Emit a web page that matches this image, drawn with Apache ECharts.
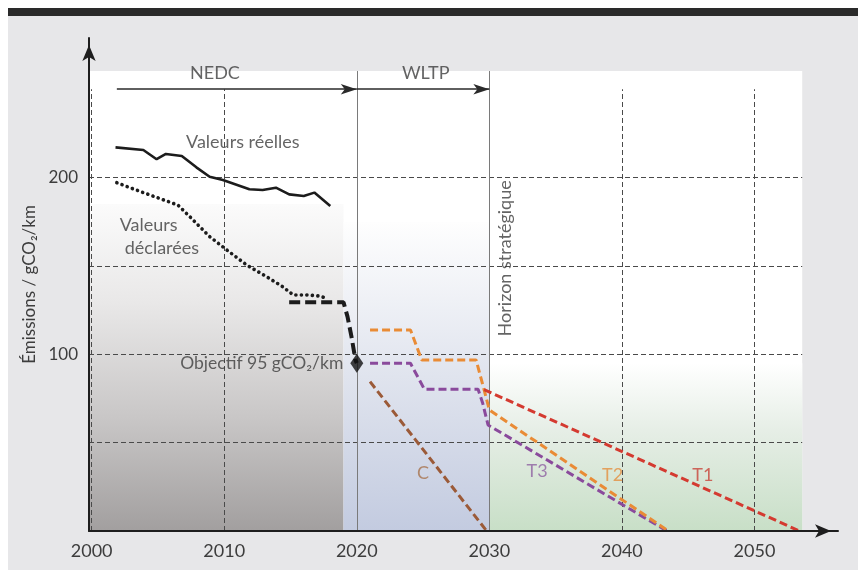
<!DOCTYPE html>
<html><head><meta charset="utf-8">
<script src="https://cdn.jsdelivr.net/npm/echarts@6/dist/echarts.min.js"></script>
<style>html,body{margin:0;padding:0;background:#fff}#c{width:858px;height:570px}</style>
</head><body><div id="c"></div>
<script>
// ---- data ----
const xTickYears = [2000, 2010, 2020, 2030, 2040, 2050];
const yTickValues = [100, 200];
const gridValues = [50, 100, 150, 200];
const dashedYears = [2000, 2010, 2040, 2050];
const phaseYears = [2020, 2030];

const reellesYears  = [2001.8, 2003.9, 2004.9, 2005.6, 2006.8, 2007.9, 2008.9, 2009.9, 2011.9, 2012.9, 2013.9, 2014.9, 2016.0, 2016.8, 2018.0];
const reellesValues = [217.1, 215.6, 210.4, 213.4, 212.2, 205.8, 200.5, 198.6, 193.4, 193.0, 194.3, 190.5, 189.6, 191.5, 183.9];

const declareesYears  = [2001.9, 2003.9, 2006.5, 2007.4, 2008.9, 2010.2, 2011.7, 2013.2, 2014.4, 2015.2, 2016.2, 2017.2, 2017.7];
const declareesValues = [197.1, 191.5, 184.5, 177.9, 166.6, 159.0, 150.5, 143.9, 138.3, 133.6, 133.6, 133.0, 131.7];

const objectifYears  = [2014.9, 2019.0, 2019.3, 2019.6, 2019.9, 2020.0];
const objectifValues = [129.4, 129.4, 121.3, 110.0, 96.8, 95.0];
const targetPoint = [2020, 95];

const t2Years  = [2021.0, 2024.05, 2024.9, 2029.0, 2029.6, 2030.0, 2043.5];
const t2Values = [113.8, 113.8, 96.8, 96.8, 80.0, 68.5, 0];
const t3Years  = [2021.0, 2024.05, 2025.1, 2029.15, 2029.5, 2029.9, 2043.4];
const t3Values = [94.9, 94.9, 80.2, 80.2, 72.3, 60.0, 0];
const t1Years  = [2029.6, 2053.4];
const t1Values = [80.0, 0];
const cYears   = [2021.0, 2029.8];
const cValues  = [84.5, 0];

const scenarioNames  = ['C', 'T3', 'T2', 'T1'];
const scenarioYears  = [2025.0, 2033.6, 2039.3, 2046.1];
const scenarioValues = [33.0, 34.1, 31.7, 31.7];

const phaseNames = ['NEDC', 'WLTP'];
const phaseCenters = [2009.3, 2025.2];
const phaseStarts = [2001.9, 2020];
const phaseEnds = [2020, 2030];
const phaseLabelValue = 259;
const phaseArrowValue = 250;

const xMin = 1999.8, xMax = 2056.3, yMax = 279;
const panelRight = 2053.6, panelTop = 260.3, gridTop = 250;

// ---- build ----
const zip = (xs, ys) => xs.map((x, i) => [x, ys[i]]);
const FONT = "Lato, 'Open Sans', sans-serif";
const TXT = '#3d3d3d';
const grad = (stops) => ({type: 'linear', x: 0, y: 0, x2: 0, y2: 1,
  colorStops: stops.map(s => ({offset: s[0], color: s[1]}))});

const chart = echarts.init(document.getElementById('c'), null, {renderer: 'canvas'});

const textPoint = (name, x, y, extra) => ({
  value: [x, y],
  label: Object.assign({show: true, position: 'inside', formatter: name,
    fontSize: 18, color: TXT, fontFamily: FONT}, extra || {})
});

chart.setOption({
  animation: false,
  backgroundColor: '#e7e7e9',
  textStyle: {fontFamily: FONT},
  graphic: [
    {type: 'rect', z: -10, shape: {x: 0, y: 0, width: 858, height: 16}, style: {fill: '#ffffff'}},
    {type: 'rect', z: -10, shape: {x: 0, y: 0, width: 8, height: 570}, style: {fill: '#ffffff'}},
    {type: 'rect', z: -9, shape: {x: 8, y: 8, width: 850, height: 8}, style: {fill: '#2a2a2a'}}
  ],
  grid: {left: 89, right: 20, top: 38, bottom: 39, containLabel: false},
  xAxis: {
    type: 'value', min: xMin, max: xMax, z: 10,
    axisLine: {show: true, symbol: ['none', 'arrow'], symbolSize: [10, 16], symbolOffset: [0, -7],
      lineStyle: {color: '#1e1e1e', width: 2}},
    axisTick: {show: false},
    splitLine: {show: false},
    axisLabel: {customValues: xTickYears, fontSize: 18, color: TXT, margin: 11, fontFamily: FONT,
      formatter: v => String(Math.round(v))}
  },
  yAxis: {
    type: 'value', min: 0, max: yMax, z: 10,
    name: 'Émissions / gCO₂/km', nameLocation: 'middle', nameGap: 50, nameRotate: 90,
    nameTextStyle: {fontSize: 17, color: TXT, fontFamily: FONT},
    axisLine: {show: true, symbol: ['none', 'arrow'], symbolSize: [10, 16], symbolOffset: [0, -7],
      lineStyle: {color: '#1e1e1e', width: 2}},
    axisTick: {show: false},
    splitLine: {show: false},
    axisLabel: {customValues: yTickValues, fontSize: 17, color: TXT, margin: 11, fontFamily: FONT}
  },
  series: [
    { // backgrounds
      type: 'line', data: [], silent: true,
      markArea: {silent: true, z: 0.5, data: [
        [{coord: [xMin, 0], itemStyle: {color: '#ffffff'}}, {coord: [panelRight, panelTop]}]
      ]}
    },
    {
      type: 'line', data: [], silent: true,
      markArea: {silent: true, z: 0.8, data: [
        [{coord: [xMin, 0], itemStyle: {color: grad([[0, '#fbfbfb'], [0.3, '#e9e8e8'], [0.65, '#c9c7c7'], [1, '#a29f9f']])}}, {coord: [2019.0, 185]}],
        [{coord: [2019.0, 0], itemStyle: {color: grad([[0, '#fefefe'], [0.5, '#e0e4ee'], [1, '#c3cbe0']])}}, {coord: [2030, 175]}],
        [{coord: [2030, 0], itemStyle: {color: grad([[0, '#ffffff'], [0.4, '#e6eee6'], [1, '#c8dfc7']])}}, {coord: [panelRight, 95]}]
      ]}
    },
    { // grid lines
      type: 'line', data: [], silent: true,
      markLine: {silent: true, z: 1, symbol: ['none', 'none'], label: {show: false},
        lineStyle: {color: '#4a4a4a', width: 1, type: [5, 3]},
        data: gridValues.map(v => [{coord: [xMin, v]}, {coord: [panelRight, v]}])
          .concat(dashedYears.map(y => [{coord: [y, 0]}, {coord: [y, gridTop]}]))
          .concat(phaseYears.map(y => [{coord: [y, 0]}, {coord: [y, panelTop], lineStyle: {type: 'solid', color: '#7a7a7a', width: 1}}]))
      }
    },
    { // phase arrows
      type: 'line', data: [], silent: true,
      markLine: {silent: true, z: 3, symbol: ['none', 'arrow'], symbolSize: [8, 16], label: {show: false},
        lineStyle: {color: '#2a2a2a', width: 1.5, type: 'solid'},
        data: phaseStarts.map((s, i) => [{coord: [s, phaseArrowValue]}, {coord: [phaseEnds[i], phaseArrowValue]}])
      }
    },
    {name: 'Valeurs réelles', type: 'line', z: 4, symbol: 'none', data: zip(reellesYears, reellesValues),
      lineStyle: {color: '#1c1c1c', width: 2.6}},
    {name: 'Valeurs déclarées', type: 'line', z: 4, symbol: 'none', data: zip(declareesYears, declareesValues),
      lineStyle: {color: '#1c1c1c', width: 3.6, type: [0.1, 5.4], cap: 'round'}},
    {name: 'Objectif', type: 'line', z: 4, symbol: 'none', data: zip(objectifYears, objectifValues),
      lineStyle: {color: '#1c1c1c', width: 4, type: [11, 5]}},
    {name: 'C', type: 'line', z: 4, symbol: 'none', data: zip(cYears, cValues),
      lineStyle: {color: '#9b5a38', width: 3, type: [8, 4]}},
    {name: 'T3', type: 'line', z: 4, symbol: 'none', data: zip(t3Years, t3Values),
      lineStyle: {color: '#8a4a9c', width: 3, type: [8, 4]}},
    {name: 'T2', type: 'line', z: 4, symbol: 'none', data: zip(t2Years, t2Values),
      lineStyle: {color: '#e98b35', width: 3, type: [8, 4]}},
    {name: 'T1', type: 'line', z: 4, symbol: 'none', data: zip(t1Years, t1Values),
      lineStyle: {color: '#d43a30', width: 3, type: [8, 4]}},
    {name: 'Objectif 95', type: 'scatter', z: 5, symbol: 'diamond', symbolSize: [13, 19],
      itemStyle: {color: '#111111'}, data: [targetPoint],
      label: {show: true, position: 'left', distance: 7, fontSize: 17.5, color: TXT, fontFamily: FONT,
        formatter: 'Objectif 95 gCO₂/km'}},
    { // text annotations
      type: 'scatter', z: 6, symbolSize: 0, silent: true,
      data: [
        textPoint('Valeurs réelles', 2011.4, 220.3),
        textPoint('Valeurs', 2004.3, 173.2),
        textPoint('déclarées', 2005.3, 160.3),
        textPoint('Horizon stratégique', 2031.17, 154.3, {rotate: 90}),
      ].concat(phaseNames.map((n, i) => textPoint(n, phaseCenters[i], phaseLabelValue)))
       .concat(scenarioNames.map((n, i) => textPoint(n, scenarioYears[i], scenarioValues[i],
         {color: ['#a8734e', '#8f62a1', '#e38f3f', '#c8443a'][i]})))
    }
  ]
});
</script></body></html>
